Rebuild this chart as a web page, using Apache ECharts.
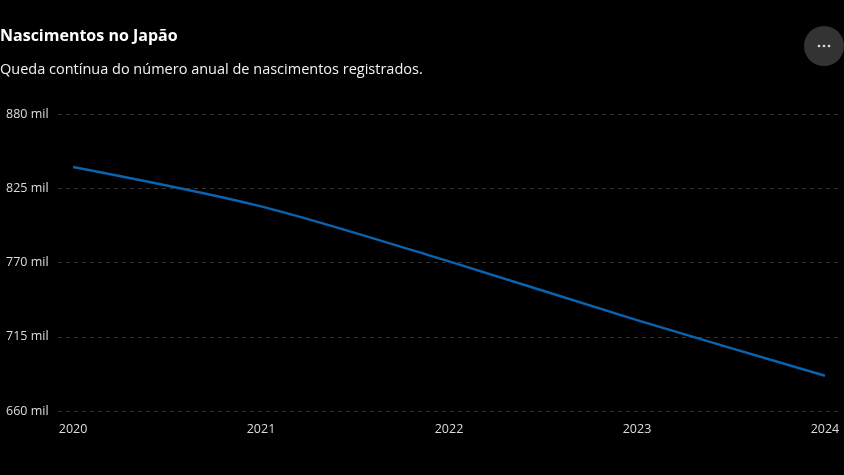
<!DOCTYPE html>
<html>
<head>
<meta charset="utf-8">
<script src="https://cdn.jsdelivr.net/npm/echarts@6/dist/echarts.min.js"></script>
<style>
  html, body { margin: 0; padding: 0; background: #000; }
  #chart { width: 844px; height: 475px; }
</style>
</head>
<body>
<div id="chart"></div>
<script>
const years = [2020, 2021, 2022, 2023, 2024]
// nascimentos em milhares
const births = [840.8, 811.6, 770.8, 727.3, 686.1]

const chart = echarts.init(document.getElementById('chart'))
const font = '"Open Sans", "Noto Sans", sans-serif'

chart.setOption({
  backgroundColor: '#000',
  animation: false,
  title: {
    text: 'Nascimentos no Japão',
    subtext: 'Queda contínua do número anual de nascimentos registrados.',
    left: 0,
    top: 28,
    padding: 0,
    itemGap: 18,
    textStyle: { color: '#fff', fontSize: 16, fontWeight: 'bold', fontFamily: font },
    subtextStyle: { color: '#f2f2f2', fontSize: 14.5, fontFamily: font }
  },
  graphic: [
    { type: 'circle', shape: { cx: 824, cy: 46, r: 20 }, style: { fill: '#333' } },
    { type: 'circle', shape: { cx: 819, cy: 46, r: 1.3 }, style: { fill: '#ddd' } },
    { type: 'circle', shape: { cx: 824, cy: 46, r: 1.3 }, style: { fill: '#ddd' } },
    { type: 'circle', shape: { cx: 829, cy: 46, r: 1.3 }, style: { fill: '#ddd' } }
  ],
  grid: { left: 58, right: 4, top: 114, bottom: 64 },
  xAxis: {
    type: 'value',
    min: 2019.92,
    max: 2024.08,
    axisLine: { show: false },
    axisTick: { show: false },
    splitLine: { show: false },
    axisLabel: {
      customValues: years,
      color: '#ddd',
      fontSize: 12.5,
      fontFamily: font,
      margin: 12,
      formatter: (v) => String(v)
    }
  },
  yAxis: {
    type: 'value',
    min: 660,
    max: 880,
    interval: 55,
    axisLine: { show: false },
    axisTick: { show: false },
    axisLabel: {
      color: '#ddd',
      fontSize: 12.5,
      fontFamily: font,
      align: 'left',
      margin: 52,
      formatter: (v) => `${v} mil`
    },
    splitLine: { lineStyle: { color: '#333', type: [4, 4], width: 1 } }
  },
  series: [
    {
      type: 'line',
      data: years.map((y, i) => [y, births[i]]),
      smooth: 0.3,
      symbol: 'none',
      lineStyle: { color: '#0a63ae', width: 2.5 }
    }
  ]
})
</script>
</body>
</html>
